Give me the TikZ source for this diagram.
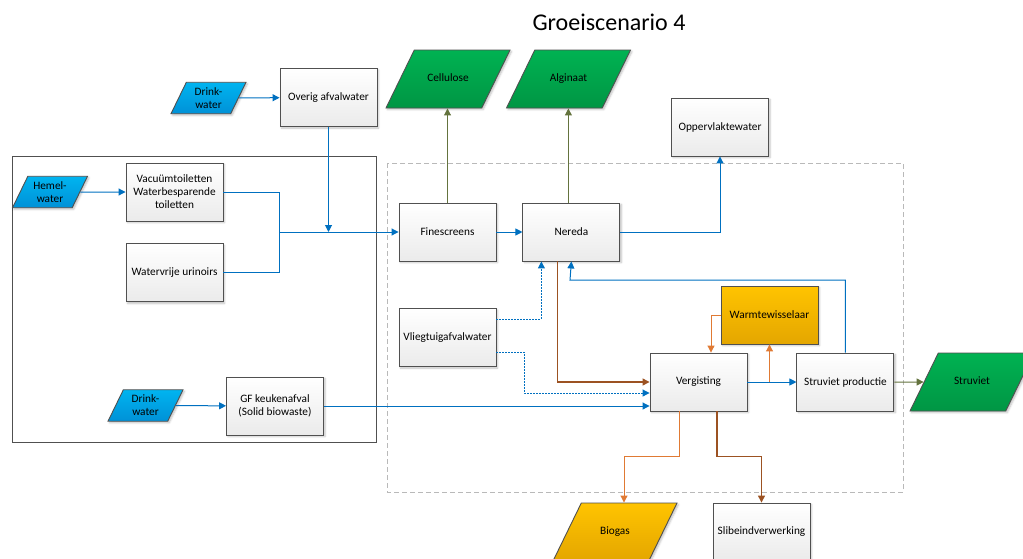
\documentclass[tikz,border=0pt]{standalone}
\usepackage{fontspec}
\setmainfont{Carlito}
\usetikzlibrary{shapes.geometric, positioning, calc, arrows.meta, shadows.blur}

\definecolor{lineblue}{RGB}{0,112,192}
\definecolor{skytop}{RGB}{0,180,240}
\definecolor{skybot}{RGB}{0,145,215}
\definecolor{leaftop}{RGB}{0,178,82}
\definecolor{leafbot}{RGB}{0,150,68}
\definecolor{goldtop}{RGB}{255,196,0}
\definecolor{goldbot}{RGB}{228,166,0}
\definecolor{moss}{RGB}{100,115,62}
\definecolor{rust}{RGB}{156,82,34}
\definecolor{ember}{RGB}{224,122,52}
\definecolor{frame}{RGB}{80,80,80}

\begin{document}
\begin{tikzpicture}[
        x=1pt, y=-1pt,
        every node/.style={font=\fontsize{11.3}{13}\selectfont, align=center},
        box/.style={draw=frame, line width=0.9pt, top color=white, bottom color=gray!16, minimum width=97pt, minimum height=58pt, inner sep=2pt, blur shadow={shadow xshift=1.5pt, shadow yshift=-1.5pt, shadow blur steps=4, shadow opacity=25}},
        para/.style={trapezium, trapezium left angle=64, trapezium right angle=116, trapezium stretches body=true, draw=frame, line width=0.9pt, inner xsep=1pt, blur shadow={shadow xshift=1.5pt, shadow yshift=-1.5pt, shadow blur steps=4, shadow opacity=25}},
        source/.style={para, minimum width=75pt, inner ysep=5.25pt, top color=skytop, bottom color=skybot},
        product/.style={para, minimum width=124pt, text height=8pt, text depth=2.5pt, inner ysep=23.75pt, top color=leaftop, bottom color=leafbot},
        energy/.style={top color=goldtop, bottom color=goldbot},
        tip/.style={-{Triangle[length=7pt,width=7pt]}},
        pipe/.style={draw=lineblue, line width=1pt},
        flow/.style={pipe, tip},
        leak/.style={flow, dash pattern=on 1.6pt off 1.4pt},
        yield/.style={tip, draw=moss, line width=1pt},
        sludge/.style={tip, draw=rust, line width=1.2pt},
        heat/.style={tip, draw=ember, line width=1pt},
        ]
      \useasboundingbox (0,0) rectangle (1023,558);

      % zones
      \draw[frame, line width=1pt] (12,156) rectangle (376,442);
      \draw[gray!55, line width=0.9pt, dash pattern=on 5pt off 3pt] (387,163) rectangle (903,492);

      \node[font=\fontsize{24}{28}\selectfont] (title) at (609,22) {Groeiscenario 4};

      % households
      \node[source] (drinkA) at (208.5,98) {Drink-\\water};
      \node[box] (overig) at (328.5,97.5) {Overig afvalwater};
      \node[source] (hemel) at (50,192) {Hemel-\\water};
      \node[box] (vacuum) at (174.5,192) {Vacuümtoiletten\\Waterbesparende\\toiletten};
      \node[box, below=22pt of vacuum] (urinoir) {Watervrije urinoirs};
      \node[source] (drinkB) at (145.5,405.5) {Drink-\\water};
      \node[box] (gf) at (275,406) {GF keukenafval\\(Solid biowaste)};

      % treatment
      \node[box] (fine) at (447.5,232) {Finescreens};
      \node[box, right=26pt of fine] (nereda) {Nereda};
      \node[box] (vlieg) at (447.5,337.5) {Vliegtuigafvalwater};
      \node[box] (verg) at (698.5,382) {Vergisting};
      \node[box, right=49pt of verg] (strprod) {Struviet productie};
      \node[box, energy] (warmte) at (769.5,315) {Warmtewisselaar};

      % outputs
      \node[product] (cellulose) at (448,79) {Cellulose};
      \node[product] (alginaat) at (568.5,79) {Alginaat};
      \node[box] (opper) at (720,127) {Oppervlaktewater};
      \node[product] (struviet) at (972,382) {Struviet};
      \node[product, energy] (biogas) at (615,532) {Biogas};
      \node[box] (slib) at (761.5,532) {Slibeindverwerking};

      \coordinate (join) at (279,232);
      \coordinate (back) at (570,280);

      \draw[flow] (drinkA) -- (overig);
      \draw[flow] (hemel) -- (vacuum);
      \draw[flow] (drinkB) -- (gf);
      \draw[pipe] (vacuum.east) -| (join);
      \draw[pipe] (urinoir.east) -| (join);
      \draw[flow] (join) -- (fine.west);
      \draw[flow] (overig.south) -- (overig.south |- fine.west);
      \draw[flow] (fine) -- (nereda);
      \draw[yield] (fine.north) -- (fine.north |- cellulose.south);
      \draw[yield] ($(nereda.north)+(-3,0)$) -- ($(nereda.north |- alginaat.south)+(-3,0)$);
      \draw[flow] (nereda.east) -| (opper.south);
      \draw[flow] (strprod.north) |- (back) -- (nereda.south);
      \draw[leak] ($(vlieg.east)+(0,-18.5)$) -| ($(nereda.south)+(-30,0)$);
      \draw[leak] ($(vlieg.east)+(0,14.5)$) -- ++(28,0) |- ($(verg.west)+(0,11)$);
      \draw[sludge] ($(nereda.south)+(-14,0)$) |- (verg.west);
      \draw[flow] (gf.east) -- (gf.east -| verg.west);
      \draw[flow] (verg) -- (strprod);
      \draw[heat] (warmte.west) -| ($(verg.north)+(12.5,0)$);
      \draw[heat] (warmte.south |- verg.east) -- (warmte.south);
      \draw[yield] (strprod) -- (struviet);
      \draw[heat] ($(verg.south)+(-19.5,0)$) -- ++(0,45) -| ($(biogas.north)+(9,0)$);
      \draw[sludge] ($(verg.south)+(18.5,0)$) -- ++(0,45) -| (slib.north);
    \end{tikzpicture}
\end{document}
